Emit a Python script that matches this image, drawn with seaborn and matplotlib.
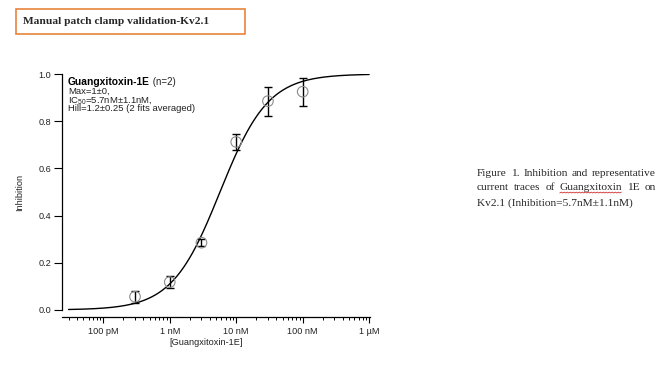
import numpy as np
import pandas as pd
import matplotlib
matplotlib.use("Agg")
import matplotlib.pyplot as plt
import seaborn as sns
from matplotlib.patches import Rectangle
from matplotlib.ticker import FixedLocator, LogLocator, NullFormatter, FormatStrFormatter

# ── Data ─────────────────────────────────────────────────────────────────────
CONC_M = [3e-10, 1e-9, 3e-9, 1e-8, 3e-8, 1e-7]
INHIBITION = [0.056, 0.118, 0.285, 0.712, 0.885, 0.925]
INHIB_ERR = [0.025, 0.026, 0.016, 0.033, 0.061, 0.059]

# Hill fit parameters printed on the chart
FIT_MAX = 1.0
FIT_IC50 = 5.7e-9
FIT_HILL = 1.2
FIT_RANGE = (3e-11, 1e-6)

XTICKS = [1e-10, 1e-9, 1e-8, 1e-7, 1e-6]
XTICK_LABELS = ["100 pM", "1 nM", "10 nM", "100 nM", "1 µM"]
YTICKS = [0.0, 0.2, 0.4, 0.6, 0.8, 1.0]

ANNOT_LINES = ["Max=1±0,", "IC$_{50}$=5.7nM±1.1nM,",
               "Hill=1.2±0.25 (2 fits averaged)"]
CAPTION = ["Figure 1. Inhibition and representative",
           "current traces of Guangxitoxin 1E on",
           "Kv2.1 (Inhibition=5.7nM±1.1nM)"]

W, H = 660, 367
SANS = ["Liberation Sans", "DejaVu Sans"]
SERIF = ["Liberation Serif", "DejaVu Serif"]
TXT = "#222222"


def px(x, y):
    """Pixel position (from top-left) -> figure fraction."""
    return x / W, 1 - y / H


sns.set_style("ticks")
plt.rcParams["font.family"] = SANS
plt.rcParams["mathtext.fontset"] = "custom"
plt.rcParams["mathtext.rm"] = "Liberation Sans"

fig = plt.figure(figsize=(W / 100, H / 100), dpi=100)
ax = fig.add_axes([61.5 / W, 1 - 317 / H, (370 - 61.5) / W, (317 - 74) / H])

# ── Fit curve ────────────────────────────────────────────────────────────────
conc_fit = np.logspace(np.log10(FIT_RANGE[0]), np.log10(FIT_RANGE[1]), 300)
fit_df = pd.DataFrame({
    "conc": conc_fit,
    "inh": FIT_MAX / (1 + (FIT_IC50 / conc_fit) ** FIT_HILL),
})
sns.lineplot(data=fit_df, x="conc", y="inh", color="black", lw=1.0, ax=ax,
             zorder=3)

# ── Data points ──────────────────────────────────────────────────────────────
pts = pd.DataFrame({"conc": CONC_M, "inh": INHIBITION, "err": INHIB_ERR})
ax.errorbar(pts["conc"], pts["inh"], yerr=pts["err"], fmt="none",
            ecolor="black", elinewidth=1.0, capsize=2.6, capthick=1.0,
            zorder=4)
sns.scatterplot(data=pts, x="conc", y="inh", marker="o", s=58,
                facecolor="none", edgecolor="#8c8c8c", linewidth=0.8,
                ax=ax, zorder=5)

# ── Axes ─────────────────────────────────────────────────────────────────────
ax.set_xscale("log")
ax.set_xlim(2.35e-11, 1.03e-6)
ax.set_ylim(-0.03, 1.0)
ax.xaxis.set_major_locator(FixedLocator(XTICKS))
ax.set_xticklabels(XTICK_LABELS)
ax.xaxis.set_minor_locator(LogLocator(base=10, subs=np.arange(2, 10)))
ax.xaxis.set_minor_formatter(NullFormatter())
ax.set_yticks(YTICKS)
ax.yaxis.set_major_formatter(FormatStrFormatter("%.1f"))
ax.tick_params(axis="both", which="major", direction="out", length=4,
               width=0.8, labelsize=6.6, pad=3.5, color="black",
               labelcolor=TXT)
ax.tick_params(axis="x", which="minor", direction="out", length=2.3,
               width=0.7, color="black")
ax.tick_params(axis="y", which="major", length=6, pad=1.5)
ax.set_xlabel("")
ax.set_ylabel("")
for side in ["top", "right"]:
    ax.spines[side].set_visible(False)
ax.spines["left"].set_bounds(0, 1)
for side in ["left", "bottom"]:
    ax.spines[side].set_linewidth(0.9)
    ax.spines[side].set_color("black")

fig.text(*px(20, 192), "Inhibition", rotation=90, ha="center", va="center",
         fontsize=6.6, color=TXT)
fig.text(*px(206, 342.5), "[Guangxitoxin-1E]", ha="center", va="center",
         fontsize=6.6, color=TXT)

# ── In-plot annotation ───────────────────────────────────────────────────────
bold = fig.text(*px(68, 82), "Guangxitoxin-1E", fontweight="bold",
                fontsize=7.4, va="center", color="black")
ax.annotate(" (n=2)", xy=(1, 0), xycoords=bold, va="bottom", ha="left",
            fontsize=7.0, color=TXT)
for i, line in enumerate(ANNOT_LINES):
    fig.text(*px(68, 91.6 + 8.6 * i), line, fontsize=6.8, va="center",
             color=TXT)

# ── Title box ────────────────────────────────────────────────────────────────
x0, y1 = px(16, 34)
x1, y0 = px(245, 9)
fig.patches.append(Rectangle((x0, y1), x1 - x0, y0 - y1,
                             transform=fig.transFigure, fill=False,
                             edgecolor="#E8843C", linewidth=1.2))
fig.text(*px(23, 21.5), "Manual patch clamp validation-Kv2.1",
         family=SERIF, fontweight="bold", fontsize=8.2, va="center")

# ── Caption (justified) ──────────────────────────────────────────────────────
renderer = fig.canvas.get_renderer()
cap_left, cap_right = 477, 656
cap_size = 8.2
wavy_word = None
for i, line in enumerate(CAPTION):
    y = 173 + 15 * i
    if i == len(CAPTION) - 1:
        fig.text(*px(cap_left, y), line, family=SERIF, fontsize=cap_size,
                 va="center")
        continue
    words = line.split(" ")
    texts = [fig.text(*px(cap_left, y), w, family=SERIF, fontsize=cap_size,
                      va="center") for w in words]
    widths = [t.get_window_extent(renderer).width for t in texts]
    gap = (cap_right - cap_left - sum(widths)) / (len(words) - 1)
    xpos = cap_left
    for t, wd, w in zip(texts, widths, words):
        t.set_x(xpos / W)
        xpos += wd + gap
        if w == "Guangxitoxin":
            wavy_word = t

# red spell-check squiggle under "Guangxitoxin"
if wavy_word is not None:
    bb = wavy_word.get_window_extent(renderer)
    xs = np.arange(bb.x0, bb.x1, 1.5)
    ys = bb.y0 - 0.5 + 0.9 * (np.arange(len(xs)) % 2)
    fig.add_artist(plt.Line2D(xs / W, ys / H, color="#d03030", lw=0.6,
                              transform=fig.transFigure))

fig.savefig("out.png", dpi=100, facecolor="white")
